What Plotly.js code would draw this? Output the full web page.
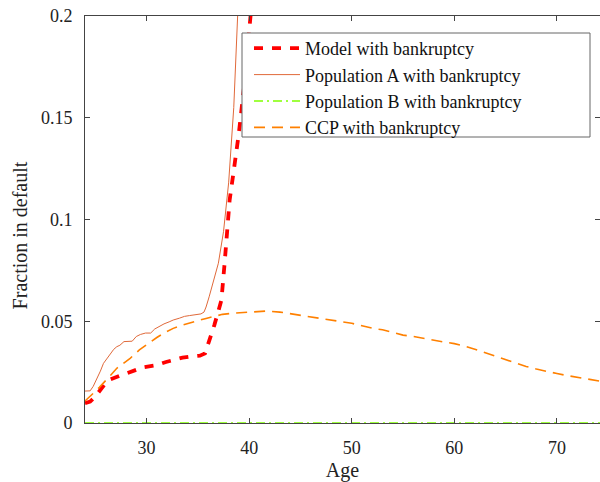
<!DOCTYPE html>
<html>
<head>
<meta charset="utf-8">
<script src="https://cdn.plot.ly/plotly-3.0.1.min.js"></script>
<style>
  html, body { margin: 0; padding: 0; background: #fff; }
</style>
</head>
<body>
<div id="chart" style="width:600px;height:482px;"></div>
<script>
// series (fraction in default by age)
const modelAge = [24, 24.5, 25, 25.5, 26, 26.5, 26.8, 27.5, 28, 28.6, 29.2, 29.8, 30.4, 31, 31.9, 32.7, 33.5, 34.3, 35.2, 35.7, 36.1, 36.6, 37, 37.3, 37.6, 37.8, 38.1, 38.5, 39, 39.5, 40, 40.5];
const modelVal = [0.0097, 0.0105, 0.0130, 0.0162, 0.0195, 0.0215, 0.0222, 0.0235, 0.0243, 0.0252, 0.0265, 0.0275, 0.0278, 0.0285, 0.0300, 0.0312, 0.0321, 0.0327, 0.0331, 0.0342, 0.0400, 0.0480, 0.0550, 0.0604, 0.078, 0.091, 0.1096, 0.124, 0.1425, 0.165, 0.19, 0.22];

const popAAge = [24, 24.5, 24.8, 25.2, 25.5, 25.8, 26.2, 26.5, 26.8, 27.1, 27.4, 27.8, 28.2, 28.6, 29, 29.4, 29.9, 30.4, 30.8, 31.2, 31.7, 32.2, 32.6, 33.2, 33.7, 34.2, 34.8, 35.3, 35.6, 35.8, 36.1, 36.5, 37, 37.5, 38, 38.5, 38.9, 39.3];
const popAVal = [0.0157, 0.0158, 0.0180, 0.0220, 0.0255, 0.0293, 0.0320, 0.0342, 0.0362, 0.0375, 0.0382, 0.0400, 0.0400, 0.0402, 0.0425, 0.0435, 0.0442, 0.0442, 0.0462, 0.0475, 0.0487, 0.0497, 0.0506, 0.0515, 0.0524, 0.0528, 0.0532, 0.0536, 0.0545, 0.0570, 0.0620, 0.0690, 0.0785, 0.094, 0.118, 0.155, 0.200, 0.250];

const popBAge = [24, 30, 40, 50, 60, 70, 74.5];
const popBVal = [0, 0, 0, 0, 0, 0, 0];

const ccpAge = [24, 24.5, 25, 25.4, 25.8, 26.5, 27.1, 27.8, 28.4, 29.3, 30.4, 31, 31.7, 32.6, 33.4, 34.2, 35, 35.8, 36.6, 37.4, 38.5, 39.5, 40.5, 41.7, 43, 44, 45, 46, 47, 48, 49, 50, 51, 52, 53, 54, 55, 56, 57, 58, 59, 60, 61, 62, 63, 64, 65, 66, 67, 68, 69, 70, 71, 72, 73, 74, 74.5];
const ccpVal = [0.0108, 0.0130, 0.0155, 0.0175, 0.0195, 0.0235, 0.0269, 0.0295, 0.0318, 0.0359, 0.0400, 0.0420, 0.0442, 0.0465, 0.0480, 0.0490, 0.0503, 0.0514, 0.0525, 0.0534, 0.0540, 0.0544, 0.0547, 0.0550, 0.0545, 0.0537, 0.0531, 0.0522, 0.0515, 0.0508, 0.0498, 0.0490, 0.0478, 0.0466, 0.0458, 0.0445, 0.0432, 0.0425, 0.0415, 0.0406, 0.0398, 0.0390, 0.0378, 0.0362, 0.0345, 0.0328, 0.0310, 0.0293, 0.0278, 0.0265, 0.0253, 0.0243, 0.0233, 0.0225, 0.0215, 0.0207, 0.0203];

const names = ['Model with bankruptcy', 'Population A with bankruptcy', 'Population B with bankruptcy', 'CCP with bankruptcy'];

const serif = '"Liberation Serif", "Times New Roman", serif';
const axisColor = '#444';

var data = [
  { x: modelAge, y: modelVal, name: names[0], type: 'scatter', mode: 'lines',
    line: { color: '#ff0000', width: 3.8, dash: '9px,9px' } },
  { x: popAAge, y: popAVal, name: names[1], type: 'scatter', mode: 'lines',
    line: { color: '#e0693a', width: 1 } },
  { x: popBAge, y: popBVal, name: names[2], type: 'scatter', mode: 'lines',
    line: { color: '#80ff00', width: 1.6, dash: '9px,4px,2px,4px' } },
  { x: ccpAge, y: ccpVal, name: names[3], type: 'scatter', mode: 'lines',
    line: { color: '#ff8000', width: 1.6, dash: '11px,7px' } }
];

var layout = {
  width: 600, height: 482,
  margin: { l: 85, r: 0, t: 16, b: 59 },
  paper_bgcolor: '#fff', plot_bgcolor: '#fff',
  font: { family: serif, size: 18, color: '#222' },
  showlegend: true,
  xaxis: {
    range: [24, 74.2],
    tickvals: [30, 40, 50, 60, 70],
    ticks: 'inside', ticklen: 5, tickcolor: axisColor,
    showline: true, linecolor: axisColor, linewidth: 1, mirror: 'ticks',
    showgrid: false, zeroline: false,
    ticklabelstandoff: 8,
    tickfont: { family: serif, size: 18, color: '#222' },
    title: { text: 'Age', font: { family: serif, size: 20 }, standoff: 6 }
  },
  yaxis: {
    range: [0, 0.2],
    tickvals: [0, 0.05, 0.1, 0.15, 0.2],
    ticktext: ['0', '0.05', '0.1', '0.15', '0.2'],
    ticks: 'inside', ticklen: 5, tickcolor: axisColor,
    showline: true, linecolor: axisColor, linewidth: 1, mirror: 'ticks',
    showgrid: false, zeroline: false,
    ticklabelstandoff: 8,
    tickfont: { family: serif, size: 18, color: '#222' }
  },
  // y title placed a little below the plot centre, as in the original
  annotations: [{
    text: 'Fraction in default', xref: 'paper', yref: 'paper',
    x: -0.127, y: 0.46, xanchor: 'center', yanchor: 'middle',
    textangle: -90, showarrow: false,
    font: { family: serif, size: 20, color: '#222' }
  }],
  legend: {
    x: (249 - 85) / 515, xanchor: 'left', y: (423 - 30) / 407, yanchor: 'top',
    bgcolor: 'rgba(0,0,0,0)', borderwidth: 0,
    font: { family: serif, size: 18, color: '#111' },
    itemwidth: 46, tracegroupgap: 0
  },
  // white legend box drawn as a shape so it can be wider than the text
  shapes: [{
    type: 'rect', xref: 'paper', yref: 'paper', layer: 'above',
    x0: (242 - 85) / 515, x1: (590 - 85) / 515,
    y0: (423 - 137) / 407, y1: (423 - 33) / 407,
    fillcolor: '#fff', line: { color: '#666', width: 1 }
  }]
};

Plotly.newPlot('chart', data, layout, { displayModeBar: false, staticPlot: true });
</script>
</body>
</html>
